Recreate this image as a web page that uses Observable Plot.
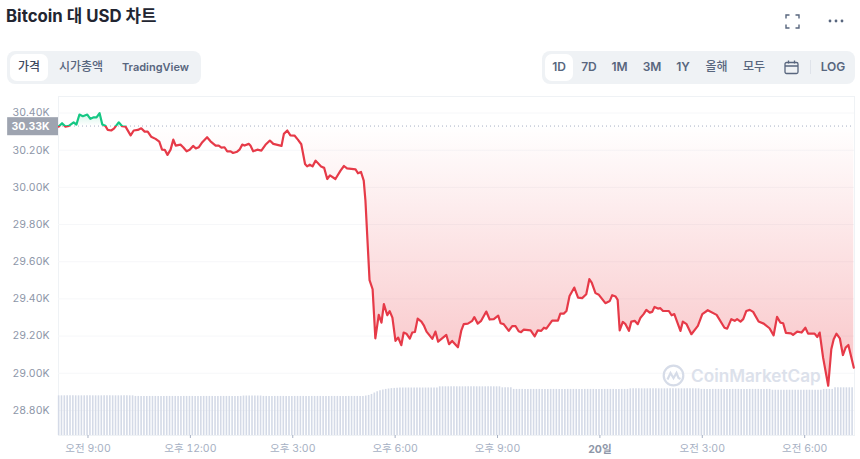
<!DOCTYPE html>
<html lang="ko">
<head>
<meta charset="utf-8">
<script src="https://cdn.jsdelivr.net/npm/d3@7"></script>
<script src="https://cdn.jsdelivr.net/npm/@observablehq/plot@0.6"></script>
<style>
  html,body{margin:0;padding:0;background:#fff;}
  body{width:860px;height:459px;position:relative;overflow:hidden;font-family:Inter,"Noto Sans CJK KR",sans-serif;-webkit-font-smoothing:antialiased;}
  .h{position:absolute;white-space:nowrap;}
  .title{left:6px;top:6px;font-size:16.8px;font-weight:700;color:#222531;line-height:20px;}
  .box{background:#eff2f5;border-radius:8px;top:51px;height:33px;}
  .sel{background:#fff;border-radius:7px;top:54px;height:27px;}
  .btn{top:59px;line-height:16px;font-size:12px;font-weight:600;color:#58667e;transform:translateX(-50%);}
  .ko{font-weight:500;}
  #chart{position:absolute;left:0;top:90px;}
  #chart svg{display:block;}
  .wm{left:691px;top:367px;font-size:17.2px;font-weight:600;color:#dce1eb;line-height:18px;}
</style>
</head>
<body>
<div class="h title">Bitcoin 대 USD 차트</div>
<svg class="h" style="left:785px;top:14px" width="15" height="15" viewBox="0 0 15 15" fill="none" stroke="#58667e" stroke-width="1.4"><path d="M1 4.5V1h3.5M10.5 1H14v3.5M14 10.5V14h-3.5M4.5 14H1v-3.5"/></svg>
<svg class="h" style="left:828px;top:19px" width="16" height="4" viewBox="0 0 16 4" fill="#58667e"><circle cx="2" cy="2" r="1.4"/><circle cx="8" cy="2" r="1.4"/><circle cx="14" cy="2" r="1.4"/></svg>

<div class="h box" style="left:7px;width:194px"></div>
<div class="h sel" style="left:10px;width:38px"></div>
<div class="h btn ko" style="left:29px;color:#3e4a60">가격</div>
<div class="h btn ko" style="left:81px">시가총액</div>
<div class="h btn" style="left:155.5px;font-size:11px">TradingView</div>

<div class="h box" style="left:542px;width:313px"></div>
<div class="h sel" style="left:545px;width:28px"></div>
<div class="h btn" style="left:559px">1D</div>
<div class="h btn" style="left:589px">7D</div>
<div class="h btn" style="left:619.5px">1M</div>
<div class="h btn" style="left:652px">3M</div>
<div class="h btn" style="left:683px">1Y</div>
<div class="h btn ko" style="left:716.5px">올해</div>
<div class="h btn ko" style="left:754px">모두</div>
<svg class="h" style="left:784px;top:60px" width="15" height="15" viewBox="0 0 15 15" fill="none" stroke="#58667e" stroke-width="1.3"><rect x="1" y="2.5" width="13" height="11" rx="1.5"/><path d="M1 6h13M4.5 0.5v3M10.5 0.5v3"/></svg>
<div class="h" style="left:810px;top:60px;width:1px;height:14px;background:#dfe3ea"></div>
<div class="h btn" style="left:833px">LOG</div>

<div id="chart"></div>

<svg class="h" style="left:662px;top:364px" width="23" height="23" viewBox="0 0 23 23" fill="none" stroke="#d6dce8" stroke-width="2.2"><circle cx="11.5" cy="11.5" r="9.8"/><path d="M5.5 15.5l3-6.5 3 5 3-5 2 5 2 1"/></svg>
<div class="h wm">CoinMarketCap</div>

<script>
// Hours counted from midnight of the first day (24 = 20일 00:00)
const times = [8.14,8.24,8.34,8.44,8.58,8.66,8.75,8.85,8.98,9.07,9.17,9.25,9.34,9.42,9.51,9.58,9.68,9.76,9.90,10.00,10.10,10.25,10.34,10.46,10.56,10.66,10.75,10.85,10.98,11.09,11.17,11.25,11.33,11.42,11.50,11.57,11.71,11.79,11.89,11.98,12.08,12.16,12.25,12.35,12.49,12.59,12.74,12.83,12.91,13.00,13.08,13.18,13.25,13.37,13.44,13.52,13.59,13.71,13.76,13.84,13.96,14.08,14.20,14.33,14.43,14.67,14.74,14.84,14.93,15.05,15.15,15.25,15.36,15.42,15.50,15.58,15.67,15.83,15.92,16.01,16.09,16.25,16.40,16.50,16.59,16.84,16.91,17.00,17.08,17.13,17.19,17.25,17.34,17.42,17.52,17.60,17.67,17.77,17.84,17.92,18.01,18.09,18.18,18.25,18.33,18.43,18.50,18.58,18.66,18.77,18.84,18.92,19.09,19.18,19.26,19.50,19.58,19.67,19.84,19.94,20.01,20.13,20.26,20.32,20.42,20.52,20.67,20.77,20.89,21.02,21.09,21.18,21.33,21.43,21.53,21.62,21.69,21.77,21.97,22.09,22.18,22.28,22.36,22.43,22.60,22.77,22.84,22.94,23.02,23.11,23.25,23.36,23.48,23.60,23.69,23.76,23.87,23.97,24.16,24.29,24.36,24.46,24.52,24.58,24.67,24.75,24.85,24.92,25.02,25.11,25.19,25.28,25.36,25.46,25.53,25.60,25.70,25.77,25.85,26.02,26.10,26.18,26.36,26.43,26.54,26.68,26.87,27.00,27.16,27.42,27.65,27.73,27.85,27.95,28.02,28.12,28.20,28.29,28.39,28.49,28.65,28.80,28.97,29.09,29.19,29.29,29.37,29.45,29.60,29.66,29.78,29.91,30.02,30.10,30.29,30.37,30.44,30.54,30.69,30.78,30.85,30.93,31.03,31.12,31.20,31.28,31.44];

// BTC price in USD
const prices = [30327,30345,30327,30331,30350,30338,30392,30383,30392,30369,30377,30377,30399,30338,30331,30309,30306,30316,30350,30329,30327,30280,30306,30309,30318,30300,30300,30273,30261,30246,30203,30202,30175,30203,30257,30225,30230,30216,30194,30202,30223,30210,30216,30243,30270,30248,30225,30225,30214,30216,30194,30194,30185,30192,30203,30230,30225,30234,30225,30194,30203,30198,30229,30252,30234,30223,30288,30306,30280,30279,30257,30232,30126,30113,30122,30113,30144,30112,30105,30045,30065,30045,30090,30115,30102,30097,30076,30083,30036,29928,29713,29501,29452,29188,29314,29272,29372,29312,29334,29299,29174,29192,29151,29219,29213,29186,29219,29222,29294,29278,29258,29224,29185,29224,29170,29206,29156,29174,29140,29231,29264,29267,29282,29302,29267,29282,29332,29289,29291,29310,29269,29264,29228,29253,29253,29226,29221,29235,29231,29199,29231,29228,29245,29240,29283,29283,29321,29321,29335,29416,29461,29407,29404,29425,29506,29488,29431,29422,29377,29389,29420,29413,29395,29231,29276,29264,29228,29278,29282,29264,29299,29318,29341,29326,29330,29357,29348,29350,29335,29335,29312,29318,29228,29278,29264,29210,29255,29318,29339,29314,29245,29240,29291,29282,29291,29278,29291,29335,29341,29330,29278,29267,29242,29204,29303,29272,29269,29217,29215,29206,29224,29219,29245,29213,29213,29195,29219,29084,28933,29129,29183,29213,29188,29098,29138,29152,29030];

// Trading volume per 5-minute bar, $B, as [number of bars, value] runs
const volumeRuns = [[27,19.8],[38,19.5],[7,19.7],[36,19.5],[1,19.7],[1,20.0],[1,20.5],[1,21.2],[1,21.8],[1,22.3],[1,22.7],[1,23.0],[1,23.2],[1,23.4],[1,23.5],[1,23.6],[14,23.7],[22,24.3],[4,23.8],[41,23.0],[25,23.3],[25,23.0],[18,22.6],[4,23.0],[7,23.8]];
const volumeStart = 8.14;
const barsPerHour = 12;

const basePrice = 30330;
const baseLabel = "30.33K";
const yTicks = [28800,29000,29200,29400,29600,29800,30000,30200,30400];
const xTicks = [9,12,15,18,21,24,27,30];
const xLabels = ["오전 9:00","오후 12:00","오후 3:00","오후 6:00","오후 9:00","","오전 3:00","오전 6:00"];
const dayTick = 24, dayLabel = "20일";

const xDomain = [8.136, 31.46];
const yDomain = [28665, 30489];

const rows = times.map((t,i)=>({t, p:prices[i]}));
const volumes = volumeRuns.flatMap(([n,v])=>Array(n).fill(v));
const volumeToY = d3.scaleLinear([0,1],[yDomain[0], yDomain[0]+10.78]);
const volRows = volumes.map((v,i)=>({t:volumeStart+i/barsPerHour, v}));

const maxP = d3.max(prices), minP = d3.min(prices);
const splitAt = (maxP-basePrice)/(maxP-minP);

function gradients(){
  const defs = d3.create("svg:defs");
  const g1 = defs.append("linearGradient").attr("id","lineGrad").attr("x1",0).attr("x2",0).attr("y1",0).attr("y2",1);
  [[0,"#16c784"],[splitAt,"#16c784"],[splitAt,"#e63a48"],[1,"#e63a48"]].forEach(([o,c])=>g1.append("stop").attr("offset",o).attr("stop-color",c));
  const g2 = defs.append("linearGradient").attr("id","areaGrad").attr("x1",0).attr("x2",0).attr("y1",0).attr("y2",1);
  [[0,"#16c784",0.2],[splitAt,"#16c784",0],[splitAt,"#ea3943",0],[1,"#ea3943",0.3]].forEach(([o,c,a])=>g2.append("stop").attr("offset",o).attr("stop-color",c).attr("stop-opacity",a));
  return defs.node();
}

const gray = "#8d96a8";
const chart = Plot.plot({
  width:860, height:369,
  marginTop:6, marginBottom:24, marginLeft:58, marginRight:6,
  style:{background:"transparent", fontFamily:'Inter,"Noto Sans CJK KR",sans-serif', fontSize:"10.5px", overflow:"visible"},
  x:{domain:xDomain, axis:null},
  y:{domain:yDomain, axis:null},
  marks:[
    gradients,
    Plot.frame({stroke:"#eff2f5"}),
    Plot.ruleY(yTicks,{stroke:"#f6f7f9"}),
    Plot.ruleX(volRows,{x:"t", y1:yDomain[0], y2:d=>volumeToY(d.v), stroke:"#d4dae7", strokeWidth:1.6}),
    Plot.areaY(rows,{x:"t", y1:basePrice, y2:"p", fill:"url(#areaGrad)"}),
    Plot.ruleY([basePrice],{stroke:"#a6b0c3", strokeDasharray:"1,3", strokeWidth:1}),
    Plot.line(rows,{x:"t", y:"p", stroke:"url(#lineGrad)", strokeWidth:2.2, strokeLinejoin:"round"}),
    Plot.axisY({ticks:yTicks, tickSize:0, tickPadding:9, tickFormat:d=>(d/1000).toFixed(2)+"K", color:gray, label:null, fontSize:10.5}),
    Plot.axisX({ticks:xTicks, tickSize:3, tickPadding:6, tickFormat:d=>xLabels[xTicks.indexOf(d)], color:"#a6b0c3", label:null, fontSize:10.5}),
    Plot.rect([0],{x1:xDomain[0]-1.49, x2:xDomain[0], y1:30278, y2:30375, fill:"#9ea4b0", clip:false}),
    Plot.text([baseLabel],{x:xDomain[0], y:(30278+30375)/2, text:d=>d, textAnchor:"end", dx:-9, fill:"#fff", fontWeight:700, fontSize:10.5}),
    Plot.text([dayLabel],{x:dayTick, y:yDomain[0], text:d=>d, dy:14, fill:"#8d96a8", fontWeight:700, fontSize:10.5})
  ]
});
document.getElementById("chart").appendChild(chart);
</script>
</body>
</html>
